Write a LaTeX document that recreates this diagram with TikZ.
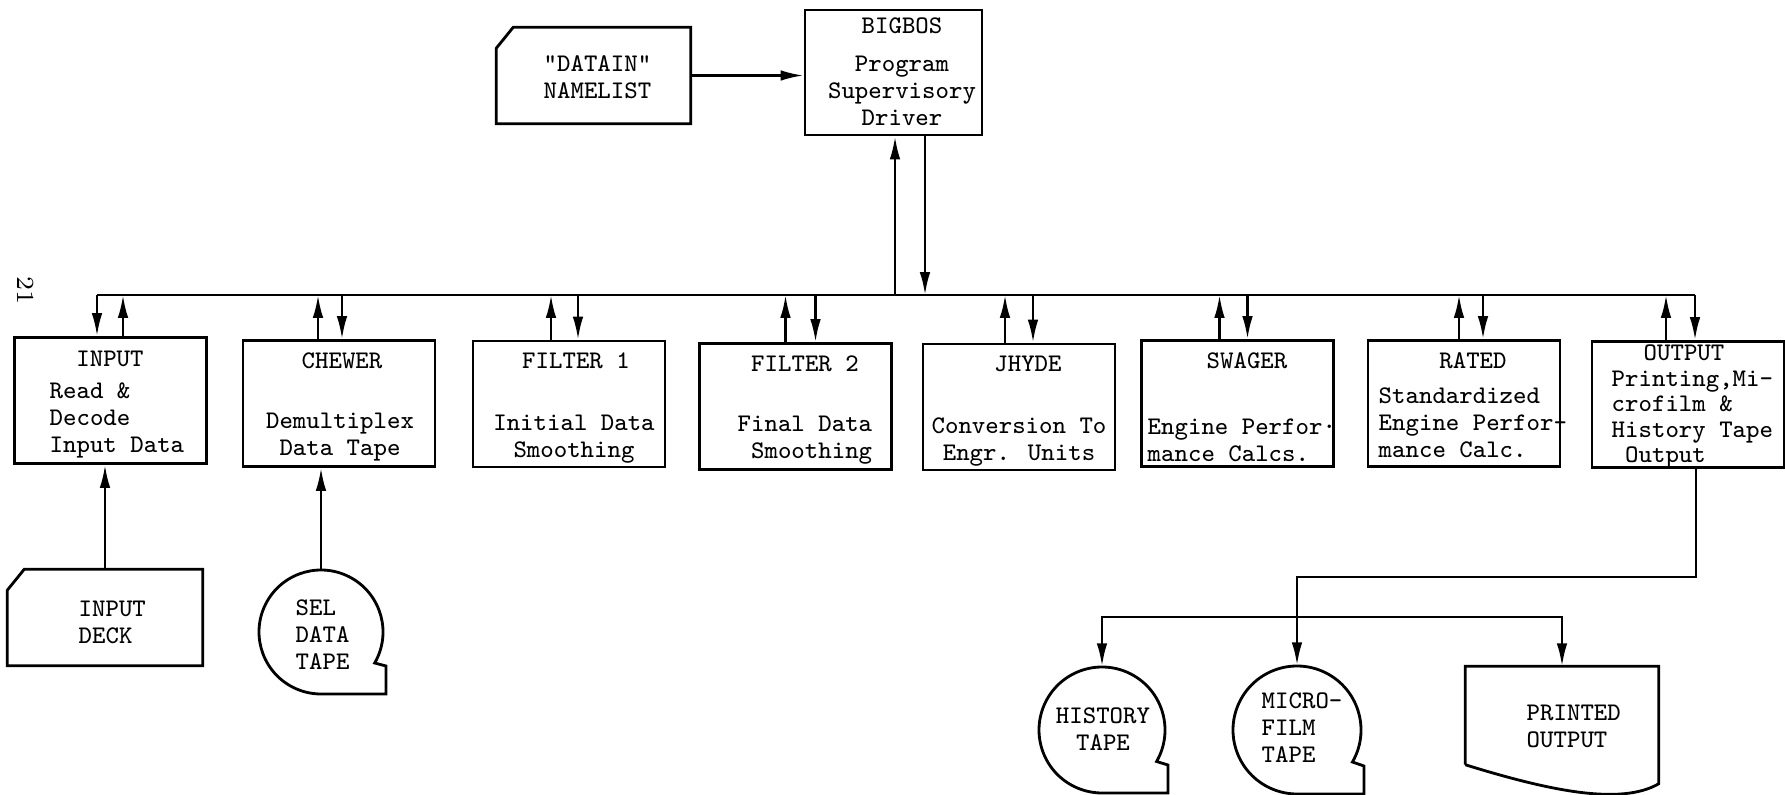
\documentclass[tikz,border=0pt]{standalone}
\usepackage{fontspec}
\usetikzlibrary{arrows.meta,calc}

% outlines drawn round empty nodes
\newcommand{\cardedge}[1]{\draw[edge] ($(#1.north west)+(17,0)$) -- (#1.north east) -- (#1.south east) -- (#1.south west) -- ($(#1.north west)+(0,21)$) -- cycle;}
\newcommand{\tapeedge}[2]{\draw[edge] ($(#1.center)+(30:#2)$) arc[start angle=30, end angle=-270, radius=#2] -- ++(#2+3,0) -- ++(0,-28) -- cycle;}
\newcommand{\docedge}[1]{\draw[edge] (#1.south west) -- (#1.north west) -- (#1.north east) -- ($(#1.south east)+(0,19)$) .. controls +(-38,22) and +(84,26) .. (#1.south west);}

\tikzset{
  edge/.style={line width=0.8pt, line join=miter},
  box/.style={draw, line width=0.8pt, minimum width=1.92cm, minimum height=1.26cm, inner sep=0pt},
  blank/.style={inner sep=0pt},
  txt/.style={inner sep=0pt, font=\fontsize{7.2}{7.7}\selectfont\ttfamily},
  note/.style={txt, align=left, anchor=north west},
  arr/.style={line width=0.7pt, -{Latex[length=6.5pt,width=3pt]}},
  wire/.style={line width=0.7pt},
}

\begin{document}
\begin{tikzpicture}[x=0.01cm, y=-0.01cm]
  \useasboundingbox (0,0) rectangle (1785,794);

  % page number
  \node[font=\fontsize{7}{7}\selectfont, rotate=-90, inner sep=0pt] (pageno) at (26,291) {21};

  % supervisor and namelist
  \node[box, minimum width=1.77cm, minimum height=1.25cm] (bigbos) at (893.5,72.5) {};
  \node[txt, anchor=north] (bigbos-name) at (902,17) {BIGBOS};
  \node[txt, anchor=north, align=center] (bigbos-note) at (902,55) {Program\\Supervisory\\Driver};
  \node[blank, minimum width=1.93cm, minimum height=0.95cm] (datain) at (593.5,75.5) {};
  \cardedge{datain}
  \node[note] (datain-note) at (543,55) {"DATAIN"\\NAMELIST};
  \draw[arr] (datain.east) -- (datain.east -| bigbos.west);

  % program modules
  \foreach \n/\x/\y in {input/110.5/400.5, chewer/339/403.5, filter1/569/404, filter2/795.5/406.5,
                        jhyde/1019/407, swager/1237.5/403.5, rated/1464/403.5, output/1688/404.5}
    \node[box] (\n) at (\x,\y) {};

  \node[txt, anchor=north] (input-name) at (110,350) {INPUT};
  \node[note] (input-note) at (49,382) {Read \&\\Decode\\Input Data};
  \node[txt, anchor=north] (chewer-name) at (342,352) {CHEWER};
  \node[txt, anchor=north, align=center] (chewer-note) at (340,412) {Demultiplex\\Data Tape};
  \node[txt, anchor=north] (filter1-name) at (576,352) {FILTER 1};
  \node[txt, anchor=north, align=center] (filter1-note) at (574,414) {Initial Data\\Smoothing};
  \node[txt, anchor=north] (filter2-name) at (805,355) {FILTER 2};
  \node[note] (filter2-note) at (737,415) {Final Data\\\hphantom{x}Smoothing};
  \node[txt, anchor=north] (jhyde-name) at (1028,355) {JHYDE};
  \node[txt, anchor=north, align=center] (jhyde-note) at (1019,417) {Conversion To\\Engr. Units};
  \node[txt, anchor=north] (swager-name) at (1247,352) {SWAGER};
  \node[note] (swager-note) at (1147,418) {Engine Perfor·\\mance Calcs.};
  \node[txt, anchor=north] (rated-name) at (1473,352) {RATED};
  \node[note] (rated-note) at (1378,387) {Standardized\\Engine Perfor-\\mance Calc.};
  \node[txt, anchor=north] (output-name) at (1684,344) {OUTPUT};
  \node[note, font=\fontsize{7.2}{7.25}\selectfont\ttfamily] (output-note) at (1611,370)
    {Printing,Mi-\\crofilm \&\\History Tape\\\hphantom{x}Output};

  % common line to BIGBOS
  \coordinate (bus) at (0,295);
  \foreach \n/\u/\d in {input/12.5/-13.5, chewer/-21/3, filter1/-18/9, filter2/-10/20,
                        jhyde/-14/14, swager/-18/10, rated/-5/19, output/-22/7} {
    \coordinate (\n-up) at ($(\n.north)+(\u,0)$);
    \coordinate (\n-dn) at ($(\n.north)+(\d,0)$);
    \draw[arr] (\n-up) -- (\n-up |- bus);
    \draw[arr] (\n-dn |- bus) -- (\n-dn);
  }
  \draw[wire] (input-dn |- bus) -- (output-dn |- bus);
  \coordinate (bigbos-up) at ($(bigbos.south)+(1.5,0)$);
  \coordinate (bigbos-dn) at ($(bigbos.south)+(31.5,0)$);
  \draw[arr] (bigbos-up |- bus) -- (bigbos-up);
  \draw[arr] (bigbos-dn) -- (bigbos-dn |- bus);

  % inputs
  \node[blank, minimum width=1.94cm, minimum height=0.95cm] (deck) at (105,617.5) {};
  \cardedge{deck}
  \node[note] (deck-note) at (78,600) {INPUT\\DECK};
  \draw[arr] (deck.north) -- (deck.north |- input.south);
  \node[blank, circle, minimum size=1.24cm] (seltape) at (321,632) {};
  \tapeedge{seltape}{62}
  \node[note] (seltape-note) at (295,599) {SEL\\DATA\\TAPE};
  \draw[arr] (seltape.north) -- (seltape.north |- chewer.south);

  % outputs
  \node[blank, circle, minimum size=1.26cm] (history) at (1102,730) {};
  \tapeedge{history}{63}
  \node[txt, anchor=north, align=center] (history-note) at (1103,707) {HISTORY\\TAPE};
  \node[blank, circle, minimum size=1.28cm] (microfilm) at (1297,730) {};
  \tapeedge{microfilm}{64}
  \node[note] (microfilm-note) at (1261,692) {MICRO-\\FILM\\TAPE};
  \node[blank, minimum width=1.92cm, minimum height=0.97cm] (printed) at (1562,715.5) {};
  \docedge{printed}
  \node[note] (printed-note) at (1526,704) {PRINTED\\OUTPUT};

  \coordinate (split) at ($(output.south)+(8,108)$);
  \coordinate (fan) at ($(microfilm.north)+(0,-48)$);
  \draw[arr] (output.south -| split) -- (split) -| (microfilm.north);
  \draw[arr] (fan) -| (history.north);
  \draw[arr] (fan) -| (printed.north);
\end{tikzpicture}
\end{document}
